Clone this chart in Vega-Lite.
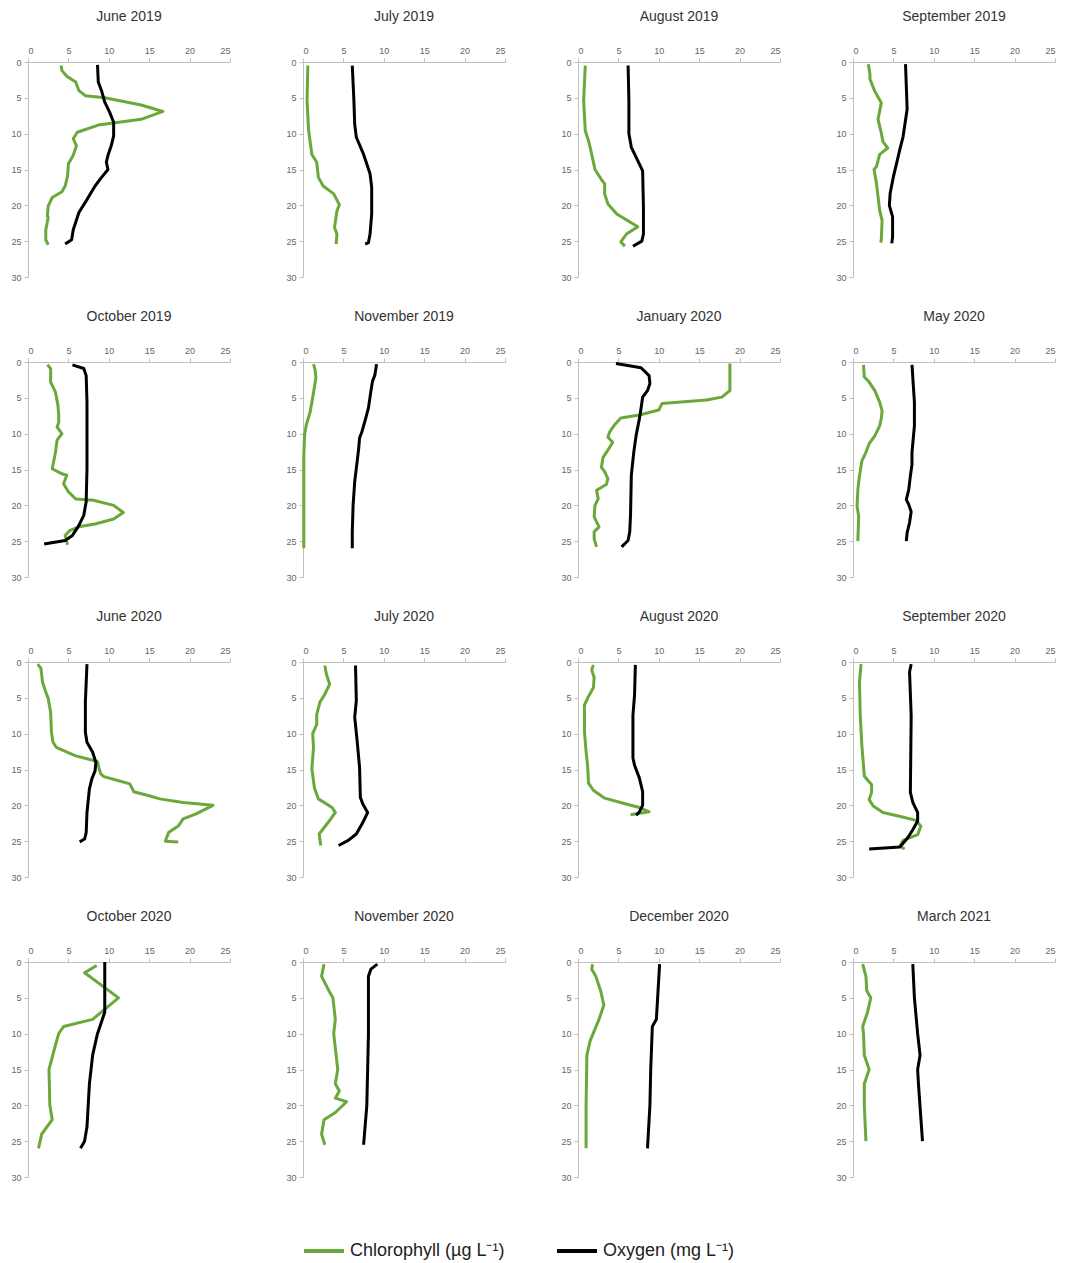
{
"$schema": "https://vega.github.io/schema/vega-lite/v6.json",
"background": "white",
"padding": {"left": 10, "top": 10, "right": 5, "bottom": 5},
"datasets": {"p": [
{"m":"June 2019","s":"C","x":4.1,"d":0.5},{"m":"June 2019","s":"C","x":4.2,"d":1.2},{"m":"June 2019","s":"C","x":4.8,"d":2},{"m":"June 2019","s":"C","x":5.9,"d":2.8},{"m":"June 2019","s":"C","x":6.3,"d":4},{"m":"June 2019","s":"C","x":7.1,"d":4.7},{"m":"June 2019","s":"C","x":9.5,"d":5},{"m":"June 2019","s":"C","x":14,"d":6},{"m":"June 2019","s":"C","x":16.7,"d":6.9},{"m":"June 2019","s":"C","x":14,"d":8},{"m":"June 2019","s":"C","x":8.7,"d":8.8},{"m":"June 2019","s":"C","x":6.1,"d":9.8},{"m":"June 2019","s":"C","x":5.6,"d":10.7},{"m":"June 2019","s":"C","x":6,"d":11.7},{"m":"June 2019","s":"C","x":5.6,"d":13},{"m":"June 2019","s":"C","x":5,"d":14.2},{"m":"June 2019","s":"C","x":4.9,"d":15.9},{"m":"June 2019","s":"C","x":4.6,"d":17.3},{"m":"June 2019","s":"C","x":4.2,"d":18.1},{"m":"June 2019","s":"C","x":3,"d":18.9},{"m":"June 2019","s":"C","x":2.5,"d":20.1},{"m":"June 2019","s":"C","x":2.4,"d":21.5},{"m":"June 2019","s":"C","x":2.5,"d":21.7},{"m":"June 2019","s":"C","x":2.2,"d":23.4},{"m":"June 2019","s":"C","x":2.2,"d":24.8},{"m":"June 2019","s":"C","x":2.5,"d":25.5},
{"m":"June 2019","s":"O","x":8.6,"d":0.4},{"m":"June 2019","s":"O","x":8.7,"d":2.8},{"m":"June 2019","s":"O","x":9.1,"d":4},{"m":"June 2019","s":"O","x":9.5,"d":5.6},{"m":"June 2019","s":"O","x":10.1,"d":7},{"m":"June 2019","s":"O","x":10.6,"d":8.4},{"m":"June 2019","s":"O","x":10.6,"d":10.3},{"m":"June 2019","s":"O","x":10.3,"d":11.7},{"m":"June 2019","s":"O","x":9.9,"d":13},{"m":"June 2019","s":"O","x":9.7,"d":14},{"m":"June 2019","s":"O","x":9.9,"d":15},{"m":"June 2019","s":"O","x":9.1,"d":16.1},{"m":"June 2019","s":"O","x":8.3,"d":17.3},{"m":"June 2019","s":"O","x":7.3,"d":19.2},{"m":"June 2019","s":"O","x":6.3,"d":21},{"m":"June 2019","s":"O","x":5.6,"d":23.4},{"m":"June 2019","s":"O","x":5.4,"d":24.8},{"m":"June 2019","s":"O","x":4.6,"d":25.4},
{"m":"July 2019","s":"C","x":0.6,"d":0.5},{"m":"July 2019","s":"C","x":0.5,"d":5.4},{"m":"July 2019","s":"C","x":0.7,"d":9.6},{"m":"July 2019","s":"C","x":1.1,"d":12.9},{"m":"July 2019","s":"C","x":1.7,"d":14},{"m":"July 2019","s":"C","x":1.9,"d":16.1},{"m":"July 2019","s":"C","x":2.5,"d":17.3},{"m":"July 2019","s":"C","x":3.8,"d":18.4},{"m":"July 2019","s":"C","x":4.5,"d":19.9},{"m":"July 2019","s":"C","x":4.2,"d":20.8},{"m":"July 2019","s":"C","x":3.9,"d":23.1},{"m":"July 2019","s":"C","x":4.2,"d":24},{"m":"July 2019","s":"C","x":4.1,"d":25.4},
{"m":"July 2019","s":"O","x":6.1,"d":0.5},{"m":"July 2019","s":"O","x":6.3,"d":5.4},{"m":"July 2019","s":"O","x":6.4,"d":8.7},{"m":"July 2019","s":"O","x":6.6,"d":10.5},{"m":"July 2019","s":"O","x":7.5,"d":12.9},{"m":"July 2019","s":"O","x":8.3,"d":15.6},{"m":"July 2019","s":"O","x":8.5,"d":17.5},{"m":"July 2019","s":"O","x":8.5,"d":21.2},{"m":"July 2019","s":"O","x":8.3,"d":24},{"m":"July 2019","s":"O","x":8.1,"d":25.2},{"m":"July 2019","s":"O","x":7.7,"d":25.4},
{"m":"August 2019","s":"C","x":0.9,"d":0.5},{"m":"August 2019","s":"C","x":0.7,"d":5.4},{"m":"August 2019","s":"C","x":0.9,"d":9.6},{"m":"August 2019","s":"C","x":1.3,"d":11},{"m":"August 2019","s":"C","x":1.5,"d":11.9},{"m":"August 2019","s":"C","x":1.7,"d":12.9},{"m":"August 2019","s":"C","x":2.1,"d":15},{"m":"August 2019","s":"C","x":2.9,"d":16.4},{"m":"August 2019","s":"C","x":3.3,"d":17},{"m":"August 2019","s":"C","x":3.3,"d":18.4},{"m":"August 2019","s":"C","x":3.7,"d":19.8},{"m":"August 2019","s":"C","x":4.8,"d":21.2},{"m":"August 2019","s":"C","x":7.4,"d":23},{"m":"August 2019","s":"C","x":6,"d":24},{"m":"August 2019","s":"C","x":5.3,"d":25.1},{"m":"August 2019","s":"C","x":5.8,"d":25.7},
{"m":"August 2019","s":"O","x":6.2,"d":0.5},{"m":"August 2019","s":"O","x":6.3,"d":5.4},{"m":"August 2019","s":"O","x":6.3,"d":10},{"m":"August 2019","s":"O","x":6.6,"d":11.9},{"m":"August 2019","s":"O","x":7.2,"d":13.3},{"m":"August 2019","s":"O","x":8,"d":15.2},{"m":"August 2019","s":"O","x":8.1,"d":20.3},{"m":"August 2019","s":"O","x":8.1,"d":24},{"m":"August 2019","s":"O","x":7.9,"d":25},{"m":"August 2019","s":"O","x":6.8,"d":25.7},
{"m":"September 2019","s":"C","x":1.9,"d":0.3},{"m":"September 2019","s":"C","x":2.1,"d":1.7},{"m":"September 2019","s":"C","x":2.1,"d":2.4},{"m":"September 2019","s":"C","x":2.7,"d":4.1},{"m":"September 2019","s":"C","x":3.5,"d":5.7},{"m":"September 2019","s":"C","x":3.1,"d":8},{"m":"September 2019","s":"C","x":3.5,"d":9.9},{"m":"September 2019","s":"C","x":3.7,"d":11.1},{"m":"September 2019","s":"C","x":4.3,"d":12},{"m":"September 2019","s":"C","x":3.3,"d":12.9},{"m":"September 2019","s":"C","x":2.9,"d":14.6},{"m":"September 2019","s":"C","x":2.6,"d":15},{"m":"September 2019","s":"C","x":2.9,"d":16.9},{"m":"September 2019","s":"C","x":3.3,"d":20.7},{"m":"September 2019","s":"C","x":3.6,"d":22.1},{"m":"September 2019","s":"C","x":3.5,"d":24.9},{"m":"September 2019","s":"C","x":3.4,"d":25.2},
{"m":"September 2019","s":"O","x":6.5,"d":0.3},{"m":"September 2019","s":"O","x":6.6,"d":3.4},{"m":"September 2019","s":"O","x":6.7,"d":6.6},{"m":"September 2019","s":"O","x":6.2,"d":10.4},{"m":"September 2019","s":"O","x":5.8,"d":12.2},{"m":"September 2019","s":"O","x":5.4,"d":14.1},{"m":"September 2019","s":"O","x":5,"d":16},{"m":"September 2019","s":"O","x":4.6,"d":18.3},{"m":"September 2019","s":"O","x":4.5,"d":20},{"m":"September 2019","s":"O","x":4.9,"d":21.6},{"m":"September 2019","s":"O","x":4.9,"d":24.4},{"m":"September 2019","s":"O","x":4.8,"d":25.3},
{"m":"October 2019","s":"C","x":2.4,"d":0.4},{"m":"October 2019","s":"C","x":2.8,"d":0.9},{"m":"October 2019","s":"C","x":2.8,"d":2.8},{"m":"October 2019","s":"C","x":3.4,"d":4.2},{"m":"October 2019","s":"C","x":3.7,"d":6},{"m":"October 2019","s":"C","x":3.8,"d":7.4},{"m":"October 2019","s":"C","x":3.8,"d":8.4},{"m":"October 2019","s":"C","x":3.6,"d":9.1},{"m":"October 2019","s":"C","x":4.2,"d":10},{"m":"October 2019","s":"C","x":3.6,"d":10.9},{"m":"October 2019","s":"C","x":3.4,"d":12.6},{"m":"October 2019","s":"C","x":3,"d":14.9},{"m":"October 2019","s":"C","x":4.2,"d":15.6},{"m":"October 2019","s":"C","x":4.8,"d":15.8},{"m":"October 2019","s":"C","x":4.4,"d":17},{"m":"October 2019","s":"C","x":5,"d":18.1},{"m":"October 2019","s":"C","x":5.9,"d":19.1},{"m":"October 2019","s":"C","x":8.1,"d":19.3},{"m":"October 2019","s":"C","x":10.6,"d":20},{"m":"October 2019","s":"C","x":11.8,"d":21},{"m":"October 2019","s":"C","x":10.6,"d":21.9},{"m":"October 2019","s":"C","x":8.3,"d":22.6},{"m":"October 2019","s":"C","x":6.3,"d":23},{"m":"October 2019","s":"C","x":5.2,"d":23.5},{"m":"October 2019","s":"C","x":4.6,"d":24.2},{"m":"October 2019","s":"C","x":4.8,"d":25.1},{"m":"October 2019","s":"C","x":4.9,"d":25.5},
{"m":"October 2019","s":"O","x":5.5,"d":0.4},{"m":"October 2019","s":"O","x":6.9,"d":0.9},{"m":"October 2019","s":"O","x":7.2,"d":1.9},{"m":"October 2019","s":"O","x":7.3,"d":5.6},{"m":"October 2019","s":"O","x":7.3,"d":14.9},{"m":"October 2019","s":"O","x":7.2,"d":19.5},{"m":"October 2019","s":"O","x":6.9,"d":21.4},{"m":"October 2019","s":"O","x":6.3,"d":22.8},{"m":"October 2019","s":"O","x":5.5,"d":24.2},{"m":"October 2019","s":"O","x":4.6,"d":24.9},{"m":"October 2019","s":"O","x":2,"d":25.4},
{"m":"November 2019","s":"C","x":1.3,"d":0.3},{"m":"November 2019","s":"C","x":1.5,"d":1.1},{"m":"November 2019","s":"C","x":1.6,"d":2.2},{"m":"November 2019","s":"C","x":1.3,"d":4.3},{"m":"November 2019","s":"C","x":0.9,"d":6.9},{"m":"November 2019","s":"C","x":0.4,"d":8.8},{"m":"November 2019","s":"C","x":0.2,"d":10.2},{"m":"November 2019","s":"C","x":0.1,"d":13},{"m":"November 2019","s":"C","x":0.1,"d":26},
{"m":"November 2019","s":"O","x":9.1,"d":0.3},{"m":"November 2019","s":"O","x":8.9,"d":1.8},{"m":"November 2019","s":"O","x":8.6,"d":2.7},{"m":"November 2019","s":"O","x":8.4,"d":4.1},{"m":"November 2019","s":"O","x":8.1,"d":6.4},{"m":"November 2019","s":"O","x":7.7,"d":8.1},{"m":"November 2019","s":"O","x":7.3,"d":9.7},{"m":"November 2019","s":"O","x":7,"d":10.6},{"m":"November 2019","s":"O","x":6.9,"d":12},{"m":"November 2019","s":"O","x":6.7,"d":13.9},{"m":"November 2019","s":"O","x":6.4,"d":16.7},{"m":"November 2019","s":"O","x":6.2,"d":20},{"m":"November 2019","s":"O","x":6.1,"d":23.7},{"m":"November 2019","s":"O","x":6.1,"d":26},
{"m":"January 2020","s":"C","x":18.8,"d":0.2},{"m":"January 2020","s":"C","x":18.8,"d":4},{"m":"January 2020","s":"C","x":17.8,"d":4.9},{"m":"January 2020","s":"C","x":15.9,"d":5.3},{"m":"January 2020","s":"C","x":10.4,"d":5.8},{"m":"January 2020","s":"C","x":10,"d":6.7},{"m":"January 2020","s":"C","x":7.6,"d":7.4},{"m":"January 2020","s":"C","x":5.3,"d":7.8},{"m":"January 2020","s":"C","x":4.5,"d":8.8},{"m":"January 2020","s":"C","x":3.9,"d":9.8},{"m":"January 2020","s":"C","x":3.7,"d":10.5},{"m":"January 2020","s":"C","x":4.3,"d":11.2},{"m":"January 2020","s":"C","x":3.7,"d":12.3},{"m":"January 2020","s":"C","x":3.1,"d":13.3},{"m":"January 2020","s":"C","x":2.9,"d":14.7},{"m":"January 2020","s":"C","x":3.3,"d":15.3},{"m":"January 2020","s":"C","x":3.7,"d":16.3},{"m":"January 2020","s":"C","x":3.5,"d":17.1},{"m":"January 2020","s":"C","x":2.3,"d":17.9},{"m":"January 2020","s":"C","x":2.5,"d":19.1},{"m":"January 2020","s":"C","x":2.1,"d":20},{"m":"January 2020","s":"C","x":2,"d":21.6},{"m":"January 2020","s":"C","x":2.6,"d":23},{"m":"January 2020","s":"C","x":2,"d":23.7},{"m":"January 2020","s":"C","x":2,"d":24.7},{"m":"January 2020","s":"C","x":2.3,"d":25.8},
{"m":"January 2020","s":"O","x":4.7,"d":0.2},{"m":"January 2020","s":"O","x":7.8,"d":0.8},{"m":"January 2020","s":"O","x":8.8,"d":1.9},{"m":"January 2020","s":"O","x":8.9,"d":3},{"m":"January 2020","s":"O","x":8.6,"d":4},{"m":"January 2020","s":"O","x":8,"d":4.9},{"m":"January 2020","s":"O","x":7.8,"d":6.5},{"m":"January 2020","s":"O","x":7.6,"d":7.9},{"m":"January 2020","s":"O","x":7.2,"d":10.2},{"m":"January 2020","s":"O","x":6.9,"d":12.6},{"m":"January 2020","s":"O","x":6.6,"d":15.8},{"m":"January 2020","s":"O","x":6.5,"d":21.4},{"m":"January 2020","s":"O","x":6.4,"d":23.7},{"m":"January 2020","s":"O","x":6.2,"d":24.9},{"m":"January 2020","s":"O","x":5.4,"d":25.8},
{"m":"May 2020","s":"C","x":1.3,"d":0.4},{"m":"May 2020","s":"C","x":1.4,"d":2.1},{"m":"May 2020","s":"C","x":2,"d":2.8},{"m":"May 2020","s":"C","x":2.7,"d":4},{"m":"May 2020","s":"C","x":3.3,"d":5.6},{"m":"May 2020","s":"C","x":3.6,"d":6.8},{"m":"May 2020","s":"C","x":3.5,"d":7.9},{"m":"May 2020","s":"C","x":3.3,"d":8.9},{"m":"May 2020","s":"C","x":2.7,"d":10.3},{"m":"May 2020","s":"C","x":2,"d":11.4},{"m":"May 2020","s":"C","x":1.6,"d":12.6},{"m":"May 2020","s":"C","x":1.1,"d":13.8},{"m":"May 2020","s":"C","x":0.8,"d":15.9},{"m":"May 2020","s":"C","x":0.6,"d":17.8},{"m":"May 2020","s":"C","x":0.5,"d":20.1},{"m":"May 2020","s":"C","x":0.7,"d":21.5},{"m":"May 2020","s":"C","x":0.6,"d":25},
{"m":"May 2020","s":"O","x":7.3,"d":0.4},{"m":"May 2020","s":"O","x":7.6,"d":5.6},{"m":"May 2020","s":"O","x":7.6,"d":8.9},{"m":"May 2020","s":"O","x":7.3,"d":12.6},{"m":"May 2020","s":"O","x":7.3,"d":14.3},{"m":"May 2020","s":"O","x":7.1,"d":15.9},{"m":"May 2020","s":"O","x":6.9,"d":17.8},{"m":"May 2020","s":"O","x":6.6,"d":19.2},{"m":"May 2020","s":"O","x":6.9,"d":19.9},{"m":"May 2020","s":"O","x":7.2,"d":20.9},{"m":"May 2020","s":"O","x":7,"d":22.4},{"m":"May 2020","s":"O","x":6.7,"d":23.8},{"m":"May 2020","s":"O","x":6.6,"d":25},
{"m":"June 2020","s":"C","x":1.2,"d":0.3},{"m":"June 2020","s":"C","x":1.6,"d":0.9},{"m":"June 2020","s":"C","x":1.8,"d":2.8},{"m":"June 2020","s":"C","x":2.2,"d":4.2},{"m":"June 2020","s":"C","x":2.5,"d":5.1},{"m":"June 2020","s":"C","x":2.8,"d":7},{"m":"June 2020","s":"C","x":2.9,"d":9.8},{"m":"June 2020","s":"C","x":3.1,"d":11.2},{"m":"June 2020","s":"C","x":3.5,"d":11.9},{"m":"June 2020","s":"C","x":4.9,"d":12.6},{"m":"June 2020","s":"C","x":5.9,"d":13.1},{"m":"June 2020","s":"C","x":7.3,"d":13.5},{"m":"June 2020","s":"C","x":8.6,"d":13.9},{"m":"June 2020","s":"C","x":8.8,"d":14.9},{"m":"June 2020","s":"C","x":9,"d":15.6},{"m":"June 2020","s":"C","x":9.4,"d":16},{"m":"June 2020","s":"C","x":11,"d":16.5},{"m":"June 2020","s":"C","x":12.6,"d":17},{"m":"June 2020","s":"C","x":13.1,"d":18.1},{"m":"June 2020","s":"C","x":15.1,"d":18.7},{"m":"June 2020","s":"C","x":16.3,"d":19.1},{"m":"June 2020","s":"C","x":19.2,"d":19.6},{"m":"June 2020","s":"C","x":22.9,"d":20},{"m":"June 2020","s":"C","x":20.8,"d":21.2},{"m":"June 2020","s":"C","x":19.2,"d":21.9},{"m":"June 2020","s":"C","x":18.6,"d":22.9},{"m":"June 2020","s":"C","x":17.4,"d":23.8},{"m":"June 2020","s":"C","x":17,"d":25},{"m":"June 2020","s":"C","x":18.6,"d":25.1},
{"m":"June 2020","s":"O","x":7.3,"d":0.3},{"m":"June 2020","s":"O","x":7.1,"d":5.6},{"m":"June 2020","s":"O","x":7.1,"d":9.8},{"m":"June 2020","s":"O","x":7.3,"d":11.2},{"m":"June 2020","s":"O","x":8,"d":12.6},{"m":"June 2020","s":"O","x":8.4,"d":14},{"m":"June 2020","s":"O","x":8.3,"d":15.2},{"m":"June 2020","s":"O","x":7.9,"d":16.3},{"m":"June 2020","s":"O","x":7.6,"d":17.7},{"m":"June 2020","s":"O","x":7.3,"d":21},{"m":"June 2020","s":"O","x":7.2,"d":23.8},{"m":"June 2020","s":"O","x":7,"d":24.7},{"m":"June 2020","s":"O","x":6.4,"d":25.1},
{"m":"July 2020","s":"C","x":2.7,"d":0.5},{"m":"July 2020","s":"C","x":2.9,"d":1.7},{"m":"July 2020","s":"C","x":3.3,"d":3.1},{"m":"July 2020","s":"C","x":2.7,"d":4.5},{"m":"July 2020","s":"C","x":2.1,"d":5.6},{"m":"July 2020","s":"C","x":1.7,"d":7.3},{"m":"July 2020","s":"C","x":1.7,"d":8.7},{"m":"July 2020","s":"C","x":1.2,"d":10},{"m":"July 2020","s":"C","x":1.3,"d":11.9},{"m":"July 2020","s":"C","x":1.1,"d":14.9},{"m":"July 2020","s":"C","x":1.4,"d":17.5},{"m":"July 2020","s":"C","x":1.9,"d":19.1},{"m":"July 2020","s":"C","x":3.6,"d":20.3},{"m":"July 2020","s":"C","x":4,"d":21},{"m":"July 2020","s":"C","x":3.1,"d":22.4},{"m":"July 2020","s":"C","x":2,"d":24},{"m":"July 2020","s":"C","x":2.2,"d":25.6},
{"m":"July 2020","s":"O","x":6.5,"d":0.5},{"m":"July 2020","s":"O","x":6.6,"d":5.4},{"m":"July 2020","s":"O","x":6.4,"d":7.7},{"m":"July 2020","s":"O","x":6.7,"d":11},{"m":"July 2020","s":"O","x":7,"d":14.7},{"m":"July 2020","s":"O","x":7.1,"d":18.9},{"m":"July 2020","s":"O","x":7.4,"d":19.8},{"m":"July 2020","s":"O","x":8,"d":21},{"m":"July 2020","s":"O","x":7.4,"d":22.4},{"m":"July 2020","s":"O","x":6.6,"d":24},{"m":"July 2020","s":"O","x":5.6,"d":24.9},{"m":"July 2020","s":"O","x":4.4,"d":25.6},
{"m":"August 2020","s":"C","x":1.9,"d":0.4},{"m":"August 2020","s":"C","x":1.7,"d":1.1},{"m":"August 2020","s":"C","x":2,"d":2.2},{"m":"August 2020","s":"C","x":1.9,"d":3.6},{"m":"August 2020","s":"C","x":1.3,"d":4.8},{"m":"August 2020","s":"C","x":0.8,"d":6},{"m":"August 2020","s":"C","x":0.8,"d":9.7},{"m":"August 2020","s":"C","x":1,"d":12.5},{"m":"August 2020","s":"C","x":1.2,"d":14.6},{"m":"August 2020","s":"C","x":1.3,"d":16.9},{"m":"August 2020","s":"C","x":1.9,"d":17.9},{"m":"August 2020","s":"C","x":3.3,"d":19},{"m":"August 2020","s":"C","x":5.6,"d":19.7},{"m":"August 2020","s":"C","x":7.6,"d":20.3},{"m":"August 2020","s":"C","x":8.8,"d":20.9},{"m":"August 2020","s":"C","x":6.5,"d":21.3},
{"m":"August 2020","s":"O","x":7.1,"d":0.4},{"m":"August 2020","s":"O","x":7,"d":4.6},{"m":"August 2020","s":"O","x":6.8,"d":7.4},{"m":"August 2020","s":"O","x":6.8,"d":13.4},{"m":"August 2020","s":"O","x":7,"d":14.4},{"m":"August 2020","s":"O","x":7.6,"d":16.2},{"m":"August 2020","s":"O","x":8,"d":18.1},{"m":"August 2020","s":"O","x":8,"d":20},{"m":"August 2020","s":"O","x":7.6,"d":20.9},{"m":"August 2020","s":"O","x":7.2,"d":21.4},
{"m":"September 2020","s":"C","x":1,"d":0.3},{"m":"September 2020","s":"C","x":0.8,"d":2.8},{"m":"September 2020","s":"C","x":0.9,"d":7.5},{"m":"September 2020","s":"C","x":1.1,"d":11.7},{"m":"September 2020","s":"C","x":1.4,"d":15.9},{"m":"September 2020","s":"C","x":1.9,"d":16.6},{"m":"September 2020","s":"C","x":2.3,"d":17.1},{"m":"September 2020","s":"C","x":2.3,"d":18.2},{"m":"September 2020","s":"C","x":2,"d":19.2},{"m":"September 2020","s":"C","x":2.5,"d":20.1},{"m":"September 2020","s":"C","x":3.7,"d":21},{"m":"September 2020","s":"C","x":6,"d":21.6},{"m":"September 2020","s":"C","x":7.8,"d":22.1},{"m":"September 2020","s":"C","x":8.4,"d":22.9},{"m":"September 2020","s":"C","x":8,"d":24.1},{"m":"September 2020","s":"C","x":6.2,"d":24.9},{"m":"September 2020","s":"C","x":5.8,"d":25.7},{"m":"September 2020","s":"C","x":6.4,"d":26.1},
{"m":"September 2020","s":"O","x":7.2,"d":0.3},{"m":"September 2020","s":"O","x":7,"d":1.4},{"m":"September 2020","s":"O","x":7.2,"d":7.5},{"m":"September 2020","s":"O","x":7.1,"d":18.2},{"m":"September 2020","s":"O","x":7.4,"d":19.6},{"m":"September 2020","s":"O","x":8,"d":21},{"m":"September 2020","s":"O","x":8,"d":22.2},{"m":"September 2020","s":"O","x":7.4,"d":23.4},{"m":"September 2020","s":"O","x":6.8,"d":24.5},{"m":"September 2020","s":"O","x":5.8,"d":25.8},{"m":"September 2020","s":"O","x":2,"d":26.1},
{"m":"October 2020","s":"C","x":8.5,"d":0.5},{"m":"October 2020","s":"C","x":7,"d":1.5},{"m":"October 2020","s":"C","x":10,"d":4},{"m":"October 2020","s":"C","x":11.2,"d":5},{"m":"October 2020","s":"C","x":8,"d":8},{"m":"October 2020","s":"C","x":4.4,"d":9},{"m":"October 2020","s":"C","x":3.8,"d":10},{"m":"October 2020","s":"C","x":3.3,"d":12},{"m":"October 2020","s":"C","x":2.6,"d":15},{"m":"October 2020","s":"C","x":2.7,"d":20},{"m":"October 2020","s":"C","x":3,"d":22},{"m":"October 2020","s":"C","x":1.7,"d":24},{"m":"October 2020","s":"C","x":1.3,"d":26},
{"m":"October 2020","s":"O","x":9.5,"d":0},{"m":"October 2020","s":"O","x":9.5,"d":7},{"m":"October 2020","s":"O","x":8.6,"d":10},{"m":"October 2020","s":"O","x":8,"d":13},{"m":"October 2020","s":"O","x":7.6,"d":17},{"m":"October 2020","s":"O","x":7.3,"d":23},{"m":"October 2020","s":"O","x":7,"d":25},{"m":"October 2020","s":"O","x":6.5,"d":26},
{"m":"November 2020","s":"C","x":2.6,"d":0.3},{"m":"November 2020","s":"C","x":2.3,"d":2},{"m":"November 2020","s":"C","x":3.2,"d":4},{"m":"November 2020","s":"C","x":3.7,"d":5},{"m":"November 2020","s":"C","x":4,"d":8},{"m":"November 2020","s":"C","x":3.8,"d":10},{"m":"November 2020","s":"C","x":4.3,"d":15},{"m":"November 2020","s":"C","x":4,"d":17},{"m":"November 2020","s":"C","x":4.5,"d":18},{"m":"November 2020","s":"C","x":4,"d":19},{"m":"November 2020","s":"C","x":5.4,"d":19.5},{"m":"November 2020","s":"C","x":4,"d":21},{"m":"November 2020","s":"C","x":2.6,"d":22},{"m":"November 2020","s":"C","x":2.3,"d":24},{"m":"November 2020","s":"C","x":2.7,"d":25.5},
{"m":"November 2020","s":"O","x":9.2,"d":0.3},{"m":"November 2020","s":"O","x":8.4,"d":1},{"m":"November 2020","s":"O","x":8.1,"d":2},{"m":"November 2020","s":"O","x":8.1,"d":10},{"m":"November 2020","s":"O","x":7.9,"d":20},{"m":"November 2020","s":"O","x":7.5,"d":25.5},
{"m":"December 2020","s":"C","x":1.8,"d":0.3},{"m":"December 2020","s":"C","x":1.7,"d":1},{"m":"December 2020","s":"C","x":2.2,"d":2},{"m":"December 2020","s":"C","x":2.8,"d":4},{"m":"December 2020","s":"C","x":3.2,"d":6},{"m":"December 2020","s":"C","x":2.6,"d":8},{"m":"December 2020","s":"C","x":1.5,"d":11},{"m":"December 2020","s":"C","x":1.1,"d":13},{"m":"December 2020","s":"C","x":1,"d":20},{"m":"December 2020","s":"C","x":1,"d":26},
{"m":"December 2020","s":"O","x":10.1,"d":0.3},{"m":"December 2020","s":"O","x":9.7,"d":8},{"m":"December 2020","s":"O","x":9.2,"d":9},{"m":"December 2020","s":"O","x":9,"d":15},{"m":"December 2020","s":"O","x":8.9,"d":20},{"m":"December 2020","s":"O","x":8.6,"d":26},
{"m":"March 2021","s":"C","x":1.2,"d":0.3},{"m":"March 2021","s":"C","x":1.6,"d":2},{"m":"March 2021","s":"C","x":1.7,"d":4},{"m":"March 2021","s":"C","x":2.2,"d":5},{"m":"March 2021","s":"C","x":1.8,"d":7},{"m":"March 2021","s":"C","x":1.2,"d":9},{"m":"March 2021","s":"C","x":1.3,"d":10},{"m":"March 2021","s":"C","x":1.4,"d":13},{"m":"March 2021","s":"C","x":2,"d":15},{"m":"March 2021","s":"C","x":1.4,"d":17},{"m":"March 2021","s":"C","x":1.4,"d":20},{"m":"March 2021","s":"C","x":1.6,"d":25},
{"m":"March 2021","s":"O","x":7.4,"d":0.3},{"m":"March 2021","s":"O","x":7.6,"d":5},{"m":"March 2021","s":"O","x":8,"d":10},{"m":"March 2021","s":"O","x":8.3,"d":13},{"m":"March 2021","s":"O","x":8,"d":15},{"m":"March 2021","s":"O","x":8.1,"d":17},{"m":"March 2021","s":"O","x":8.6,"d":25}
]},
"data": {"name": "p"},
"facet": {"field": "m", "type": "nominal",
  "sort": ["June 2019","July 2019","August 2019","September 2019","October 2019","November 2019","January 2020","May 2020","June 2020","July 2020","August 2020","September 2020","October 2020","November 2020","December 2020","March 2021"],
  "header": {"title": null, "labelFontSize": 14, "labelFont": "Liberation Sans", "labelColor": "#333333", "labelPadding": 22}},
"columns": 4,
"spacing": {"column": 54, "row": 28},
"resolve": {"axis": {"x": "independent", "y": "independent"}},
"spec": {
  "width": 202, "height": 215,
  "mark": {"type": "line", "strokeWidth": 3, "strokeJoin": "round", "strokeCap": "butt"},
  "encoding": {
    "x": {"field": "x", "type": "quantitative", "scale": {"domain": [0, 25], "nice": false},
      "axis": {"orient": "top", "values": [0, 5, 10, 15, 20, 25], "title": null}},
    "y": {"field": "d", "type": "quantitative", "scale": {"domain": [0, 30], "reverse": true, "nice": false},
      "axis": {"values": [0, 5, 10, 15, 20, 25, 30], "title": null}},
    "color": {"field": "s", "type": "nominal", "scale": {"domain": ["C", "O"], "range": ["#6aa83c", "#000000"]},
      "legend": {"title": null, "orient": "none", "legendX": 274, "legendY": 1167, "direction": "horizontal", "symbolType": "stroke", "symbolStrokeWidth": 4, "symbolSize": 1600, "labelFontSize": 18, "labelFont": "Liberation Sans", "labelColor": "#222222", "columnPadding": 44, "labelExpr": "datum.value == 'C' ? 'Chlorophyll (µg L⁻¹)' : 'Oxygen (mg L⁻¹)'"}},
    "order": {"value": null}
  }
},
"config": {
  "view": {"stroke": null},
  "axis": {"grid": false, "labelFontSize": 9, "labelFont": "Liberation Sans", "labelColor": "#666666", "domainColor": "#bfbfbf", "tickColor": "#bfbfbf", "tickSize": 4, "labelPadding": 3}
}
}
